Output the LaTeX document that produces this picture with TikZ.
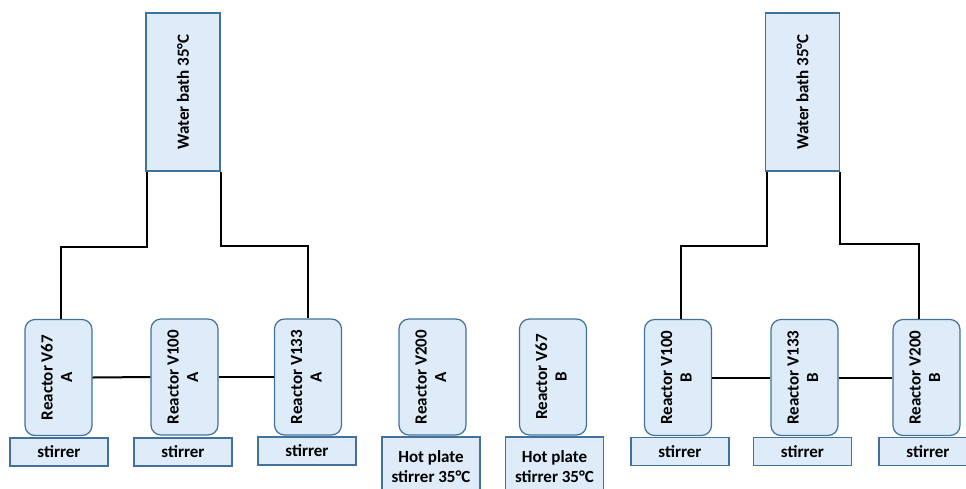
\documentclass[tikz,border=0pt]{standalone}
\usepackage{fontspec}
\setmainfont{Carlito}
\usetikzlibrary{calc}
\definecolor{boxfill}{RGB}{222,235,248}
\definecolor{boxline}{RGB}{65,113,156}
\newcommand{\reactorlabel}[2]{\rotatebox{90}{\begin{tabular}{@{}c@{}}Reactor #1\\#2\end{tabular}}}

\begin{document}
\begin{tikzpicture}[
        x=1pt, y=-1pt,
        font=\bfseries\fontsize{17}{19.5}\selectfont,
        reactor/.style={draw=boxline, fill=boxfill, line width=1.2pt, rounded corners=10pt,
            minimum width=67pt, minimum height=116pt, inner sep=0pt},
        base/.style={draw=boxline, fill=boxfill, line width=1.2pt,
            minimum width=98pt, minimum height=28pt, inner sep=0pt},
        hotplate/.style={base, minimum height=59pt, align=center},
        bath/.style={draw=boxline, fill=boxfill, line width=1.2pt,
            minimum width=74pt, minimum height=158pt, inner sep=0pt},
        pipe/.style={line width=2pt, black},
    ]
        \useasboundingbox (0,0) rectangle (966,488);
        \clip (0,0) rectangle (966,488);

        % --- Water baths ---
        \node[bath] (wbA) at (183,92) {\rotatebox{90}{Water bath 35°C}};
        \node[bath] (wbB) at (802.5,92) {\rotatebox{90}{Water bath 35°C}};

        % --- Reactors ---
        \node[reactor] (rV67A) at (58.5,377.5) {\reactorlabel{V67}{A}};
        \node[reactor] (rV100A) at (184.5,377) {\reactorlabel{V100}{A}};
        \node[reactor] (rV133A) at (308,377) {\reactorlabel{V133}{A}};
        \node[reactor] (rV200A) at (432.5,377) {\reactorlabel{V200}{A}};
        \node[reactor] (rV67B) at (553,377) {\reactorlabel{V67}{B}};
        \node[reactor] (rV100B) at (678,377.5) {\reactorlabel{V100}{B}};
        \node[reactor] (rV133B) at (804.5,377.5) {\reactorlabel{V133}{B}};
        \node[reactor] (rV200B) at (926.5,377.5) {\reactorlabel{V200}{B}};

        % --- Stirrers and hot plates ---
        \node[base] (sA1) at (59,452) {stirrer};
        \node[base] (sA2) at (183,452) {stirrer};
        \node[base] (sA3) at (307,451) {stirrer};
        \node[hotplate] (hpA) at (431,466.5) {Hot plate\\stirrer 35°C};
        \node[hotplate] (hpB) at (554.5,466.5) {Hot plate\\stirrer 35°C};
        \node[base] (sB1) at (680,451.5) {stirrer};
        \node[base] (sB2) at (802.5,451.5) {stirrer};
        \node[base] (sB3) at (928,451.5) {stirrer};

        % --- Water lines, set A ---
        \draw[pipe] ([xshift=2pt]wbA.south west) -- ++(0,75) -| ([xshift=2.5pt]rV67A.north);
        \draw[pipe] (wbA.south east) -- ++(0,74) -| (rV133A.north);
        \draw[pipe] (rV67A.east) -- (rV100A.west);
        \draw[pipe] (rV100A.east) -- (rV133A.west);

        % --- Water lines, set B ---
        \draw[pipe] ([xshift=2pt]wbB.south west) -- ++(0,74) -| ([xshift=3pt]rV100B.north);
        \draw[pipe] (wbB.south east) -- ++(0,72) -| ([xshift=-8pt]rV200B.north);
        \draw[pipe] (rV100B.east) -- (rV133B.west);
        \draw[pipe] (rV133B.east) -- (rV200B.west);
    \end{tikzpicture}
\end{document}
